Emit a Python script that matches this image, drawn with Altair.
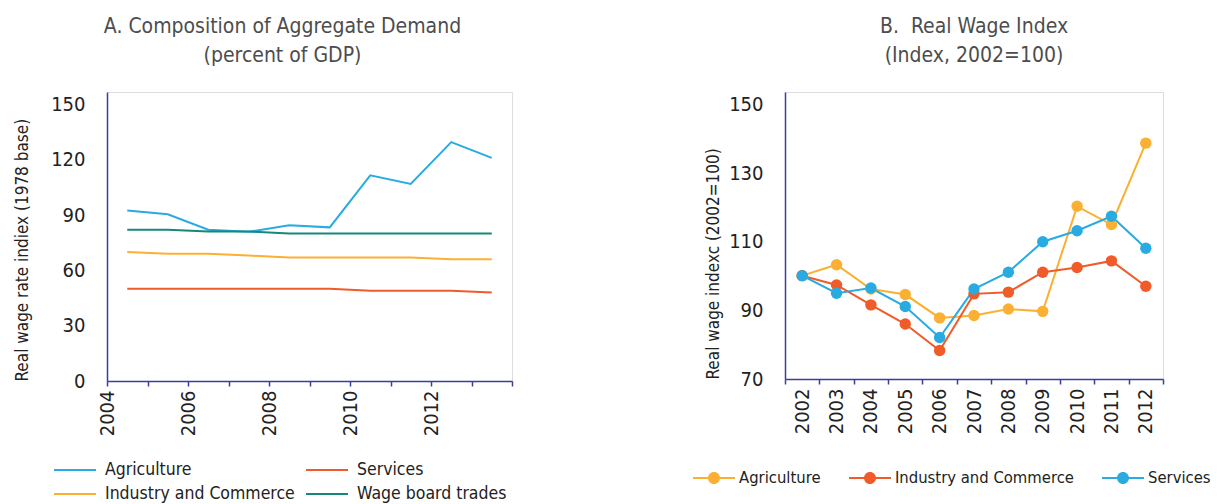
import altair as alt
import pandas as pd

# ---- Panel A data ----
years_a = [2004, 2005, 2006, 2007, 2008, 2009, 2010, 2011, 2012, 2013]
agri_a = [92.5, 90.4, 82.0, 80.9, 84.5, 83.3, 111.5, 106.8, 129.5, 121.0]
serv_a = [50, 50, 50, 50, 50, 50, 49, 49, 49, 48]
ind_a = [70, 69, 69, 68, 67, 67, 67, 67, 66, 66]
wage_a = [82, 82, 81, 81, 80, 80, 80, 80, 80, 80]

# ---- Panel B data ----
years_b = [2002, 2003, 2004, 2005, 2006, 2007, 2008, 2009, 2010, 2011, 2012]
agri_b = [100.1, 103.3, 96.2, 94.6, 87.8, 88.5, 90.4, 89.7, 120.3, 115.0, 138.7]
ind_b = [100.1, 97.4, 91.6, 86.0, 78.3, 94.8, 95.3, 101.1, 102.5, 104.4, 97.0]
serv_b = [100.1, 95.0, 96.5, 91.1, 82.1, 96.2, 101.1, 110.0, 113.2, 117.4, 108.1]

series_a = ["Agriculture", "Services", "Industry and Commerce", "Wage board trades"]
colors_a = ["#29abe2", "#f15a29", "#fbb034", "#17877a"]
series_b = ["Agriculture", "Industry and Commerce", "Services"]
colors_b = ["#fbb034", "#f15a29", "#29abe2"]

FONT = "Liberation Sans Narrow, DejaVu Sans Condensed, sans-serif"
AXIS_COLOR = "#3b3f98"
TEXT_COLOR = "#4d4d4d"

rows = []
for name, vals in zip(series_a, [agri_a, serv_a, ind_a, wage_a]):
    for y, v in zip(years_a, vals):
        rows.append({"year": y, "series": name, "value": v})
df_a = pd.DataFrame(rows)

rows = []
for name, vals in zip(series_b, [agri_b, ind_b, serv_b]):
    for y, v in zip(years_b, vals):
        rows.append({"year": y, "series": name, "value": v})
df_b = pd.DataFrame(rows)

axis_common = dict(
    domainColor=AXIS_COLOR, domainWidth=1.5, tickColor=AXIS_COLOR, tickWidth=1.5,
    labelFont=FONT, labelColor="#222222", titleFont=FONT, titleColor="#222222",
    titleFontWeight="normal", grid=False,
)

left = alt.Chart(df_a).mark_line(strokeWidth=2).encode(
    x=alt.X("year:O", title=None,
            scale=alt.Scale(type="band", paddingInner=0, paddingOuter=0),
            axis=alt.Axis(tickBand="extent", labelAngle=-90, labelFontSize=20,
                          tickSize=5, labelPadding=4, labelOffset=-20,
                          labelExpr="datum.value % 2 == 0 ? datum.label : ''",
                          **axis_common)),
    y=alt.Y("value:Q", title="Real wage rate indiex (1978 base)",
            scale=alt.Scale(domain=[0, 156.7], nice=False, zero=True),
            axis=alt.Axis(values=[0, 30, 60, 90, 120, 150], ticks=False,
                          labelFontSize=20, labelPadding=22, titleFontSize=17,
                          titlePadding=19, titleAnchor="start", **axis_common)),
    color=alt.Color("series:N",
                    scale=alt.Scale(domain=series_a, range=colors_a),
                    legend=alt.Legend(title=None, orient="none", legendX=-54, legendY=367,
                                      direction="horizontal",
                                      columns=2, columnPadding=10, rowPadding=2,
                                      symbolType="stroke", symbolSize=1764,
                                      symbolStrokeWidth=2, clipHeight=22,
                                      labelFont=FONT, labelFontSize=17.5, labelLimit=0,
                                      labelColor="#222222", labelOffset=8,
                                      padding=0)),
).properties(
    width=405, height=289,
    title=alt.TitleParams(["A. Composition of Aggregate Demand", "(percent of GDP)"],
                          font=FONT, fontSize=21, fontWeight="normal",
                          color=TEXT_COLOR, lineHeight=29, offset=26, dx=-27),
)

right_base = alt.Chart(df_b).encode(
    x=alt.X("year:O", title=None,
            scale=alt.Scale(type="band", paddingInner=0, paddingOuter=0),
            axis=alt.Axis(tickBand="extent", labelAngle=-90, labelFontSize=20,
                          tickSize=5, labelPadding=4, **axis_common)),
    y=alt.Y("value:Q", title="Real wage indexc (2002=100)",
            scale=alt.Scale(domain=[70, 153.6], nice=False, zero=False),
            axis=alt.Axis(values=[70, 90, 110, 130, 150], ticks=False,
                          labelFontSize=20, labelPadding=22, titleFontSize=17,
                          titlePadding=6, titleAnchor="start", **axis_common)),
)

right_line = right_base.mark_line(strokeWidth=2).encode(
    stroke=alt.Stroke("series:N",
                      scale=alt.Scale(domain=series_b[::-1], range=colors_b[::-1]),
                      legend=None),
)
right_pts = right_base.mark_point(filled=True, size=130, opacity=1).encode(
    color=alt.Color("series:N",
                    scale=alt.Scale(domain=series_b, range=colors_b),
                    legend=alt.Legend(title=None, orient="none", legendX=-92, legendY=375,
                                      direction="horizontal", columnPadding=28,
                                      symbolType="M-1,-0.05H1V0.05H-1ZM0.286,0A0.286,0.286,0,1,1,-0.286,0A0.286,0.286,0,1,1,0.286,0Z",
                                      symbolSize=1764, symbolStrokeWidth=0,
                                      clipHeight=22, labelFont=FONT, labelFontSize=16.5,
                                      labelLimit=0,
                                      labelColor="#222222", labelOffset=4, padding=0)),
)

right = alt.layer(right_line, right_pts).properties(
    width=378, height=287,
    title=alt.TitleParams(["B.\u00a0 Real Wage Index", "(Index, 2002=100)"],
                          font=FONT, fontSize=21, fontWeight="normal",
                          color=TEXT_COLOR, lineHeight=29, offset=26),
)

chart = alt.hconcat(left, right, spacing=178).resolve_scale(
    color="independent", stroke="independent", x="independent", y="independent"
).properties(
    padding={"left": 5, "top": 7, "right": 0, "bottom": 0}
).configure_view(stroke=None).configure(background="white")

chart.save("out.html", embed_options={"renderer": "svg", "actions": False})
